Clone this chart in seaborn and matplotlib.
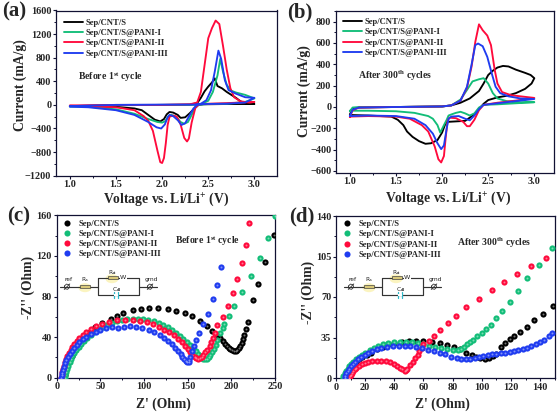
"""
Four panel figure: CV curves (a, b) and Nyquist plots (c, d)
"""
import matplotlib
matplotlib.use("Agg")
import matplotlib.pyplot as plt
from matplotlib.patches import Ellipse, Rectangle
from matplotlib.lines import Line2D
from matplotlib.ticker import MultipleLocator
import seaborn as sns

sns.set_theme(style="ticks")
plt.rcParams["font.family"] = ["Liberation Serif", "DejaVu Serif"]
plt.rcParams["font.weight"] = "bold"
plt.rcParams["mathtext.fontset"] = "custom"
plt.rcParams["mathtext.rm"] = "Liberation Serif:bold"
plt.rcParams["mathtext.it"] = "Liberation Serif:bold"
plt.rcParams["mathtext.bf"] = "Liberation Serif:bold"

W, H = 557, 412

names = ["Sep/CNT/S", "Sep/CNT/S@PANI-I", "Sep/CNT/S@PANI-II", "Sep/CNT/S@PANI-III"]
colors = ["#000000", "#12bd78", "#ff0a3c", "#1f3cf0"]

# ── panel a: before 1st cycle ───────────────────────────────────────────────
a_black_v = [1.0, 1.5, 2.0, 2.3, 2.38, 2.42, 2.46, 2.5, 2.54, 2.57, 2.6, 2.65, 2.7, 2.75, 2.8, 2.85, 2.9, 3.0,
             2.7, 2.45, 2.38, 2.35, 2.3, 2.25, 2.2, 2.17, 2.12, 2.08, 2.05, 2.02, 1.98, 1.92, 1.85, 1.78, 1.7, 1.5, 1.2, 1.0]
a_black_i = [-20, -5, 0, 5, 30, 120, 230, 310, 380, 450, 320, 280, 220, 170, 120, 60, 30, 15,
             15, 10, 0, -60, -140, -210, -220, -170, -130, -120, -160, -240, -280, -250, -170, -90, -60, -35, -25, -20]
a_green_v = [1.0, 1.5, 2.0, 2.35, 2.42, 2.5, 2.55, 2.6, 2.63, 2.66, 2.7, 2.75, 2.8, 2.9, 3.0,
             2.9, 2.7, 2.5, 2.4, 2.36, 2.32, 2.28, 2.24, 2.2, 2.15, 2.1, 2.07, 2.03, 2.0, 1.95, 1.85, 1.7, 1.5, 1.2, 1.0]
a_green_i = [-25, -5, 0, 0, 10, 70, 220, 500, 780, 560, 340, 240, 210, 170, 110,
             50, 20, 15, 5, -50, -170, -290, -320, -290, -200, -170, -190, -280, -300, -290, -240, -150, -75, -30, -25]
a_red_v = [1.0, 1.5, 2.0, 2.3, 2.38, 2.42, 2.45, 2.48, 2.5, 2.54, 2.58, 2.62, 2.66, 2.7, 2.74, 2.78, 2.85, 2.95, 3.0,
           2.7, 2.5, 2.4, 2.36, 2.32, 2.29, 2.27, 2.24, 2.2, 2.16, 2.12, 2.08, 2.06, 2.04, 2.02, 2.0, 1.98, 1.95, 1.9,
           1.85, 1.8, 1.7, 1.5, 1.2, 1.0]
a_red_i = [-10, 0, 0, 10, 40, 220, 560, 900, 1130, 1300, 1430, 1370, 1000, 600, 280, 130, 60, 40, 50,
           30, 20, 10, -50, -300, -570, -620, -560, -330, -200, -180, -200, -340, -650, -900, -985, -970, -780, -440,
           -270, -190, -90, -40, -20, -15]
a_blue_v = [1.0, 1.5, 2.0, 2.35, 2.42, 2.48, 2.53, 2.57, 2.61, 2.64, 2.68, 2.72, 2.8, 2.9, 3.0,
            2.9, 2.7, 2.45, 2.38, 2.34, 2.3, 2.25, 2.21, 2.17, 2.12, 2.08, 2.06, 2.03, 1.99, 1.94, 1.85, 1.7, 1.5, 1.2, 1.0]
a_blue_i = [-20, 0, 5, 5, 20, 80, 250, 560, 920, 780, 420, 250, 190, 130, 120,
            40, 20, 15, 0, -60, -170, -310, -340, -260, -190, -170, -210, -330, -400, -380, -290, -170, -90, -40, -30]

# ── panel b: after 300th cycles ─────────────────────────────────────────────
b_black_v = [1.0, 1.03, 1.1, 1.5, 2.0, 2.1, 2.2, 2.3, 2.4, 2.45, 2.5, 2.55, 2.6, 2.66, 2.72, 2.8, 2.9, 2.96, 3.0,
             2.97, 2.9, 2.8, 2.7, 2.6, 2.5, 2.45, 2.4, 2.35, 2.3, 2.25, 2.15, 2.05, 2.03, 2.0, 1.95, 1.88, 1.82, 1.75,
             1.68, 1.62, 1.58, 1.52, 1.45, 1.2, 1.0]
b_black_i = [-70, -20, -5, 0, 5, 15, 40, 80, 150, 220, 300, 340, 370, 385, 380, 350, 320, 300, 270,
             220, 170, 130, 105, 90, 65, 30, -20, -70, -100, -130, -135, -140, -170, -240, -310, -340, -345, -320,
             -280, -230, -170, -120, -90, -80, -75]
b_green_v = [1.0, 1.03, 1.1, 1.5, 2.0, 2.1, 2.2, 2.27, 2.33, 2.4, 2.45, 2.5, 2.55, 2.6, 2.7, 2.85, 3.0,
             2.8, 2.6, 2.45, 2.4, 2.35, 2.3, 2.25, 2.2, 2.15, 2.1, 2.07, 2.05, 2.02, 1.98, 1.95, 1.9, 1.85, 1.7, 1.5, 1.2, 1.0]
b_green_i = [-40, -5, 0, 0, 5, 15, 70, 160, 240, 260, 270, 220, 130, 80, 55, 45, 45,
             35, 25, 20, -5, -60, -80, -60, -45, -55, -70, -80, -120, -170, -240, -170, -110, -85, -55, -40, -35, -35]
b_red_v = [1.0, 1.03, 1.1, 1.5, 2.0, 2.1, 2.2, 2.27, 2.32, 2.36, 2.4, 2.44, 2.49, 2.53, 2.57, 2.6, 2.65, 2.75, 2.9, 3.0,
           2.8, 2.6, 2.45, 2.4, 2.35, 2.3, 2.27, 2.23, 2.15, 2.08, 2.06, 2.04, 2.02, 1.99, 1.96, 1.92, 1.85, 1.78, 1.65, 1.5, 1.2, 1.0]
b_red_i = [-95, -30, -5, 0, 5, 15, 60, 180, 380, 610, 775, 720, 670, 580, 350, 220, 140, 110, 95, 85,
           60, 40, 20, -30, -120, -180, -180, -140, -105, -100, -130, -280, -460, -520, -490, -370, -230, -170, -110, -90, -85, -90]
b_blue_v = [1.0, 1.03, 1.1, 1.5, 2.0, 2.1, 2.2, 2.27, 2.32, 2.36, 2.39, 2.44, 2.49, 2.54, 2.58, 2.63, 2.72, 2.85, 3.0,
            2.8, 2.6, 2.45, 2.4, 2.35, 2.3, 2.25, 2.18, 2.1, 2.07, 2.05, 2.02, 1.99, 1.95, 1.9, 1.82, 1.7, 1.5, 1.2, 1.0]
b_blue_i = [-85, -25, -5, 0, 5, 15, 60, 190, 400, 580, 595, 570, 470, 310, 190, 130, 100, 80, 75,
            55, 35, 20, -20, -80, -125, -110, -85, -90, -110, -200, -360, -395, -340, -250, -170, -110, -85, -80, -85]

# ── panel c: Nyquist before 1st cycle ───────────────────────────────────────
c_black_x = [8, 9, 10, 11, 12, 14, 15, 17, 19, 21, 24, 27, 30, 34, 38, 44, 52, 62, 69, 76, 87, 96, 106, 116, 127, 137, 147,
             155, 164, 172, 178, 183, 187, 190, 193, 195, 197, 199, 201, 203, 205, 207, 209, 210, 212, 213, 215, 217,
             219, 225, 230, 239, 249]
c_black_y = [0, 3, 6, 9, 12, 15, 18, 21, 24, 27, 30, 34, 38, 41, 45, 50, 54, 58, 61, 64, 67, 68, 69, 69, 68, 66, 63.5,
             60.5, 56, 51, 46, 42, 39, 36, 33, 31, 29.5, 28, 27, 26, 26, 27, 29, 31, 34, 38, 42, 48,
             55, 77, 92, 114, 141]
c_green_x = [9, 10, 11, 12, 13, 15, 16, 18, 20, 22, 25, 28, 31, 35, 39, 43, 48, 53, 58, 63, 69, 75, 81, 87, 93, 99, 105,
             111, 117, 122, 127, 132, 137, 141, 145, 149, 153, 156, 159, 162, 164, 166, 168, 170, 172, 174, 176, 178,
             180, 182, 184, 187, 190, 192, 197, 203, 212, 223, 233, 242, 250]
c_green_y = [0, 3, 6, 9, 12, 15, 18, 21, 24, 27, 30, 33, 36, 39, 42, 45, 48, 50, 52, 54, 55.5, 57, 58, 58, 58, 57.5, 57,
             55.5, 54, 52, 49.5, 47, 44, 41, 38, 35, 32, 29, 26, 23, 21, 19.5, 18, 18, 18.5, 20, 22, 25,
             28, 32, 37, 44, 49, 53, 61, 71, 84, 100, 118, 138, 159]
c_red_x = [5, 5.5, 6, 7, 8, 9, 11, 12, 14, 16, 18, 20, 23, 26, 30, 34, 39, 45, 52, 60, 69, 78, 87, 95, 103, 110, 117, 123,
           129, 134, 139, 143, 147, 150, 153, 155, 158, 160, 162, 164, 166, 168, 170, 172, 175, 177, 179, 181, 184, 190,
           196, 202, 207, 212, 217, 220]
c_red_y = [0, 3, 6, 9, 12, 15, 18, 21, 24, 27, 30, 33, 36, 39, 42, 45, 48, 50.5, 52.5, 55, 56.5, 57, 57, 56, 55, 52.5, 50, 47,
           45, 42, 38, 35, 31, 28, 25, 22.5, 20, 19, 18.5, 19, 20, 22, 25, 27, 31, 35, 39, 44, 52, 60,
           71, 83, 97, 113, 131, 152]
c_blue_x = [5, 5.5, 6, 7, 8, 10, 11, 13, 15, 17, 20, 23, 26, 30, 34, 39, 45, 50, 56, 63, 70, 77, 84, 91, 98, 106, 112, 118,
            123, 128, 132, 136, 139, 142, 144, 146, 148, 149, 151, 152, 153, 155, 157, 159, 163, 167, 173, 179, 184, 188]
c_blue_y = [0, 3, 5, 8, 11, 14, 17, 20, 23, 26, 29, 32, 35, 38, 40, 43, 45, 47, 48.5, 49.5, 49, 50, 50.5, 50, 49, 47, 45, 42,
            39, 36, 33, 29, 26, 23, 20, 18, 16, 15, 15, 17, 20, 26, 31, 37, 44, 53, 63, 78, 91, 109]

# ── panel d: Nyquist after 300th cycles ─────────────────────────────────────
d_black_x = [6, 6.5, 7, 8, 9, 10, 12, 14, 16, 18, 21, 24, 28, 32, 36, 40, 45, 50, 55, 60, 66, 71, 76, 81, 85, 89, 93, 96,
             99, 102, 105, 108, 110, 113, 116, 119, 122, 126, 131, 136, 142, 149]
d_black_y = [0, 2, 4, 6, 8, 10, 12, 14, 16, 18, 20, 22, 25, 27, 29, 30.5, 31.5, 32, 32, 32, 31, 30, 28.5, 27, 25, 22, 20, 18,
             17, 16.5, 17, 19, 21, 27, 30, 33.5, 36, 40, 44.5, 50, 55.5, 62]
d_green_x = [4.5, 5, 6, 7, 8, 9, 10.5, 12, 14, 16, 18, 20, 23, 26, 29, 32, 36, 40, 44, 48, 52, 56, 60, 64, 68, 72, 76, 80,
             84, 86, 88, 90, 92, 94, 97, 100, 103, 106, 110, 114, 119, 125, 131, 139, 148]
d_green_y = [0, 2, 4, 6, 8, 10, 12, 14, 16, 18, 20, 22, 24, 26, 28, 29, 30, 31, 31.5, 31.5, 31, 30, 29, 28, 27, 26, 25, 24.5,
             24, 25, 27, 29, 31, 33, 36, 39, 42, 46, 52, 58, 66, 75, 86, 98, 112]
d_red_x = [9, 9.5, 10, 11, 12, 13, 14, 16, 18, 20, 22, 25, 28, 31, 34, 37, 40, 42, 44, 45.5, 47, 48, 49, 51, 53, 54, 56, 57,
           59, 60, 64, 67.5, 71.5, 76.5, 82, 89, 98, 107, 115, 124, 134, 144]
d_red_y = [0, 1.5, 3, 4.5, 6, 7.5, 9, 10.5, 12, 13, 14, 14.5, 15, 15, 14.5, 13.5, 12, 10.5, 9, 7.5, 6, 7, 8, 11, 14, 17, 20, 23,
           26, 29, 32, 36, 41.5, 47.5, 53.5, 61, 68, 76, 83, 90, 97, 104]
d_blue_x = [6, 6.5, 7, 8, 9, 10, 11.5, 13, 15, 17, 20, 22, 25, 28, 31, 35, 39, 43, 47, 51, 55, 59, 63, 67, 71, 75, 79, 83,
            86, 89, 92, 95, 98, 101, 104, 107, 110, 113, 116, 119, 122, 125, 128, 131, 134, 137, 140, 143, 146, 148]
d_blue_y = [0, 2, 4, 6, 8, 10, 12, 14, 16, 18, 20, 22, 23.5, 25, 26, 27, 27.5, 28, 28, 27.5, 26.5, 26, 24.5, 23.5, 22, 20.5, 18.5, 17,
            16, 16, 16.5, 17.5, 18.5, 19, 19.5, 20.5, 21, 21.5, 22, 22.5, 23, 24, 25, 26, 27.5, 29, 31, 33, 36, 39]

fig = plt.figure(figsize=(W / 100, H / 100), dpi=100)


def make_axes(left, top, right, bottom):
    return fig.add_axes([left / W, 1 - bottom / H, (right - left) / W, (bottom - top) / H])


def style_axes(ax, xlabel, ylabel, xmajor, xminor, ymajor, yminor, xlab_pos, ylab_pos):
    ax.set_xlabel(xlabel, fontsize=9.8, fontweight="bold", va="center")
    ax.set_ylabel(ylabel, fontsize=9.8, fontweight="bold", va="center")
    ax.xaxis.set_label_coords(*xlab_pos)
    ax.yaxis.set_label_coords(*ylab_pos)
    ax.xaxis.set_major_locator(MultipleLocator(xmajor))
    ax.xaxis.set_minor_locator(MultipleLocator(xminor))
    ax.yaxis.set_major_locator(MultipleLocator(ymajor))
    ax.yaxis.set_minor_locator(MultipleLocator(yminor))
    ax.tick_params(which="major", length=2.4, width=0.8, labelsize=7.4, pad=1, color="#111133")
    ax.tick_params(which="minor", length=1.5, width=0.7, color="#111133")
    for s in ax.spines.values():
        s.set_linewidth(0.9)
        s.set_color("#111133")
        s.set_visible(True)


def cv_panel(ax, curves, anchor):
    for (v, i), c, n in zip(curves, colors, names):
        sns.lineplot(x=v, y=i, sort=False, estimator=None, color=c, lw=1.35, label=n, ax=ax)
    ax.legend(loc="upper left", bbox_to_anchor=anchor, frameon=False, fontsize=6.2, labelspacing=0.27,
              handlelength=2.2, handletextpad=0.35, borderpad=0, borderaxespad=0)


def eis_panel(ax, series, anchor):
    for (x, y), c, n in zip(series, colors, names):
        sns.scatterplot(x=x, y=y, color=c, s=20, linewidth=0, ax=ax, zorder=3)
        # small highlight, the markers look like shaded balls
        sns.scatterplot(x=x, y=y, color="white", s=2, alpha=0.45, linewidth=0, ax=ax, zorder=3)
    handles = [Line2D([], [], ls="", marker="o", ms=4.4, color=c, mew=0) for c in colors]
    ax.legend(handles, names, loc="upper left", bbox_to_anchor=anchor, frameon=False, fontsize=6.2,
              labelspacing=0.25, handletextpad=0.3, borderpad=0, borderaxespad=0)


def px_line(xs, ys, color="#333333", lw=0.85):
    fig.add_artist(Line2D([x / W for x in xs], [1 - y / H for y in ys], color=color, lw=lw, zorder=5))


def px_text(x, y, s, size=4.5, color="#222222"):
    fig.text(x / W, 1 - y / H, s, fontsize=size, ha="center", va="center", color=color, zorder=6,
             family=["DejaVu Sans"], fontweight="normal")


def px_box(x0, y0, x1, y1, fc, ec="#444444"):
    fig.add_artist(Rectangle((x0 / W, 1 - y1 / H), (x1 - x0) / W, (y1 - y0) / H, fc=fc, ec=ec, lw=0.5,
                             transform=fig.transFigure, zorder=6))


def px_glow(x, y, w, h):
    fig.add_artist(Ellipse((x / W, 1 - y / H), w / W, h / H, fc="#fbf4c0", ec="none",
                           transform=fig.transFigure, zorder=4))


def circuit(dx):
    # little equivalent circuit, drawn in pixels of the picture
    mid, hi, lo = 286.7, 277.7, 295.3
    px_line([60 + dx, 79.5 + dx], [mid, mid])
    px_line([90 + dx, 97.7 + dx], [mid, mid])
    px_line([97.7 + dx, 97.7 + dx, 138.7 + dx, 138.7 + dx, 97.7 + dx], [hi, lo, lo, hi, hi])
    px_line([138.7 + dx, 157 + dx], [mid, mid])
    px_glow(85 + dx, mid + 1, 13, 9)
    px_glow(112 + dx, hi + 1, 13, 9)
    px_box(79.5 + dx, mid - 1.7, 90 + dx, mid + 1.7, "#d8c878")
    px_box(107.5 + dx, hi - 1.7, 117.5 + dx, hi + 1.7, "#d8c878")
    for xc in (67 + dx, 150 + dx):
        px_line([xc - 2.8, xc + 2.8], [mid + 2.8, mid - 2.8], lw=0.6)
        px_line([xc - 2.6, xc - 0.6, xc + 2, xc + 2.6, xc + 0.6, xc - 2, xc - 2.6],
                [mid - 0.6, mid - 2.6, mid - 2, mid + 0.6, mid + 2.6, mid + 2, mid - 0.6], lw=0.6)
    fig.add_artist(Rectangle(((114.4 + dx) / W, 1 - (lo + 1) / H), 3.2 / W, 2 / H, fc="white", ec="none",
                             transform=fig.transFigure, zorder=6))
    px_line([114 + dx, 114 + dx], [lo - 3, lo + 3], color="#2fb8c8", lw=0.9)
    px_line([118 + dx, 118 + dx], [lo - 3, lo + 3], color="#2fb8c8", lw=0.9)
    fig.add_artist(Rectangle(((119.5 + dx) / W, 1 - (hi + 3) / H), 7 / W, 6 / H, fc="white", ec="none",
                             transform=fig.transFigure, zorder=5.5))
    px_text(123 + dx, hi - 0.5, "W", size=4.6)
    px_text(68.5 + dx, mid - 7.5, "ref", size=4.2)
    px_text(84.5 + dx, mid - 7, "R$_s$", size=4.2)
    px_text(112.5 + dx, hi - 5, "R$_{ct}$", size=4.2)
    px_text(117 + dx, lo - 6, "C$_{dl}$", size=4.2)
    px_text(151.5 + dx, mid - 7.5, "grnd", size=4.2)


# ── (a) ────────────────────────────────────────────────────────────────────
ax_a = make_axes(56, 10.5, 277, 175.7)
cv_panel(ax_a, [(a_black_v, a_black_i), (a_green_v, a_green_i), (a_red_v, a_red_i), (a_blue_v, a_blue_i)], (0.036, 0.951))
ax_a.set_xlim(0.85, 3.245)
ax_a.set_ylim(-1200, 1600)
style_axes(ax_a, "Voltage vs. Li/Li$^{+}$ (V)", "Current (mA/g)", 0.5, 0.25, 400, 200, (0.50, -0.141), (-0.163, 0.549))
ax_a.text(1.09, 463, "Before 1$^{st}$ cycle", fontsize=7, fontweight="bold", va="center")

# ── (b) ────────────────────────────────────────────────────────────────────
ax_b = make_axes(336, 11, 553.7, 172.7)
cv_panel(ax_b, [(b_black_v, b_black_i), (b_green_v, b_green_i), (b_red_v, b_red_i), (b_blue_v, b_blue_i)], (0.032, 0.957))
ax_b.set_xlim(0.85, 3.21)
ax_b.set_ylim(-616, 900)
style_axes(ax_b, "Voltage vs. Li/Li$^{+}$ (V)", "Current (mA/g)", 0.5, 0.25, 200, 100, (0.514, -0.157), (-0.148, 0.505))
ax_b.text(1.09, 290, "After 300$^{th}$ cycles", fontsize=7, fontweight="bold", va="center")

# ── (c) ────────────────────────────────────────────────────────────────────
ax_c = make_axes(56.7, 215.3, 275, 377.7)
eis_panel(ax_c, [(c_black_x, c_black_y), (c_green_x, c_green_y), (c_red_x, c_red_y), (c_blue_x, c_blue_y)], (0.01, 0.974))
ax_c.set_xlim(0, 250)
ax_c.set_ylim(0, 160)
style_axes(ax_c, "Z' (Ohm)", "-Z'' (Ohm)", 50, 25, 40, 20, (0.487, -0.163), (-0.131, 0.558))
ax_c.text(135, 135, "Before 1$^{st}$ cycle", fontsize=7, fontweight="bold", va="center")

# ── (d) ────────────────────────────────────────────────────────────────────
ax_d = make_axes(336, 216, 554.7, 378)
eis_panel(ax_d, [(d_black_x, d_black_y), (d_green_x, d_green_y), (d_red_x, d_red_y), (d_blue_x, d_blue_y)], (0.011, 0.974))
ax_d.set_xlim(0, 150)
ax_d.set_ylim(0, 140)
style_axes(ax_d, "Z' (Ohm)", "-Z'' (Ohm)", 20, 10, 35, 17.5, (0.485, -0.164), (-0.125, 0.53))
ax_d.text(83, 117, "After 300$^{th}$ cycles", fontsize=7, fontweight="bold", va="center")

circuit(0)
circuit(284)

for s, x, y in [("(a)", 2, 11), ("(b)", 287, 12), ("(c)", 7, 216), ("(d)", 289, 216)]:
    fig.text(x / W, 1 - y / H, s, fontsize=15, fontweight="bold", va="center", ha="left")

fig.savefig("out.png", dpi=100)
